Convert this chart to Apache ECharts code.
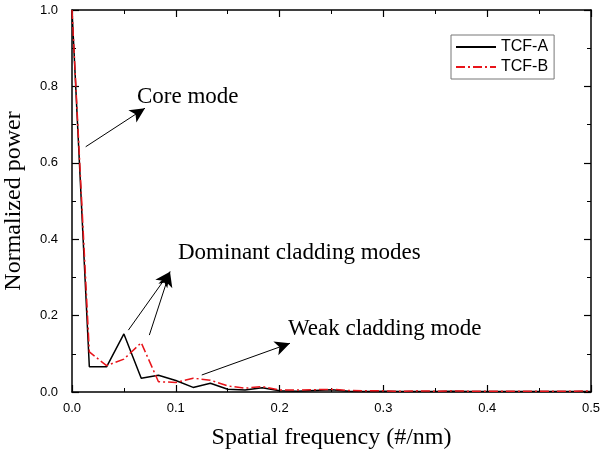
<!DOCTYPE html>
<html>
<head>
<meta charset="utf-8">
<script src="https://cdn.jsdelivr.net/npm/echarts@6/dist/echarts.min.js"></script>
<style>
  html, body { margin: 0; padding: 0; background: #fff; }
  #main { width: 602px; height: 454px; }
</style>
</head>
<body>
<div id="main"></div>
<script>
// spatial frequency samples (#/nm)
var freq = [0, 0.0167, 0.0333, 0.05, 0.0667, 0.0833, 0.1, 0.1167, 0.1333, 0.15,
  0.1667, 0.1833, 0.2, 0.2167, 0.2333, 0.25, 0.2667, 0.2833, 0.3, 0.3167,
  0.3333, 0.35, 0.3667, 0.3833, 0.4, 0.4167, 0.4333, 0.45, 0.4667, 0.4833, 0.5];
var tcfA = [1.0, 0.066, 0.066, 0.152, 0.036, 0.044, 0.030, 0.012, 0.023, 0.007,
  0.005, 0.011, 0.003, 0.002, 0.004, 0.006, 0.002, 0.001, 0.002, 0.001,
  0.001, 0.001, 0.002, 0.001, 0.001, 0.001, 0.001, 0.001, 0.001, 0.001, 0.001];
var tcfB = [1.0, 0.105, 0.069, 0.086, 0.129, 0.027, 0.025, 0.036, 0.031, 0.016,
  0.010, 0.014, 0.005, 0.005, 0.006, 0.007, 0.004, 0.003, 0.003, 0.002,
  0.003, 0.002, 0.003, 0.002, 0.002, 0.002, 0.002, 0.002, 0.002, 0.002, 0.003];
var seriesNames = ['TCF-A', 'TCF-B'];

function pairs(ys) {
  return freq.map(function (x, i) { return [x, ys[i]]; });
}

var chart = echarts.init(document.getElementById('main'));

var serif = 'Liberation Serif';
var sans = 'Liberation Sans';

function axisBase(pos, showLabel) {
  return {
    type: 'value',
    position: pos,
    min: 0,
    axisLine: { show: true, onZero: false, lineStyle: { color: '#000', width: 1.5 } },
    axisTick: { show: true, inside: true, length: 7, lineStyle: { color: '#000', width: 1.2 } },
    minorTick: { show: true, splitNumber: 2, length: 4, lineStyle: { color: '#000', width: 1 } },
    splitLine: { show: false },
    axisLabel: {
      show: showLabel, color: '#000', fontFamily: sans, fontSize: 13, margin: 10,
      formatter: function (v) { return v.toFixed(1); }
    }
  };
}

var xBottom = axisBase('bottom', true);
xBottom.max = 0.5; xBottom.interval = 0.1;
xBottom.name = 'Spatial frequency (#/nm)';
xBottom.nameLocation = 'middle';
xBottom.nameGap = 34;
xBottom.nameTextStyle = { fontFamily: serif, fontSize: 24, color: '#000' };
var xTop = axisBase('top', false);
xTop.max = 0.5; xTop.interval = 0.1;

var yLeft = axisBase('left', true);
yLeft.max = 1.0; yLeft.interval = 0.2;
yLeft.axisLabel.margin = 14;
yLeft.name = 'Normalized power';
yLeft.nameLocation = 'middle';
yLeft.nameGap = 46;
yLeft.nameTextStyle = { fontFamily: serif, fontSize: 24, color: '#000' };
var yRight = axisBase('right', false);
yRight.max = 1.0; yRight.interval = 0.2;

function arrow(from, to) {
  return [{ coord: from }, { coord: to }];
}

option = {
  animation: false,
  backgroundColor: '#fff',
  grid: { left: 72, right: 11, top: 10, bottom: 62, outerBoundsMode: 'none' },
  legend: {
    data: seriesNames,
    orient: 'vertical',
    left: 451,
    top: 35,
    padding: [4, 6, 4, 4],
    itemWidth: 40,
    itemHeight: 14,
    itemGap: 4,
    borderColor: '#777',
    borderWidth: 1,
    itemStyle: { opacity: 0 },
    textStyle: { fontFamily: sans, fontSize: 16, color: '#000' }
  },
  xAxis: [xBottom, xTop],
  yAxis: [yLeft, yRight],
  graphic: [
    { type: 'text', left: 137, top: 85, style: { text: 'Core mode', font: '23px "Liberation Serif"', fill: '#000' } },
    { type: 'text', left: 178, top: 241, style: { text: 'Dominant cladding modes', font: '23px "Liberation Serif"', fill: '#000' } },
    { type: 'text', left: 288, top: 317, style: { text: 'Weak cladding mode', font: '23px "Liberation Serif"', fill: '#000' } }
  ],
  series: [
    {
      name: seriesNames[0],
      type: 'line',
      data: pairs(tcfA),
      symbol: 'none',
      z: 3,
      lineStyle: { color: '#000', width: 1.5, type: 'solid' },
      itemStyle: { color: '#000' },
      markLine: {
        silent: true,
        symbol: ['none', 'arrow'],
        symbolSize: [11, 15],
        label: { show: false },
        lineStyle: { color: '#000', width: 1, type: 'solid' },
        data: [
          arrow([0.0132, 0.642], [0.0703, 0.743]),
          arrow([0.0543, 0.162], [0.0944, 0.315]),
          arrow([0.0745, 0.149], [0.0944, 0.315]),
          arrow([0.125, 0.0445], [0.21, 0.1275])
        ]
      }
    },
    {
      name: seriesNames[1],
      type: 'line',
      data: pairs(tcfB),
      symbol: 'none',
      z: 4,
      lineStyle: { color: '#e8141a', width: 1.5, type: [9, 3, 2, 3] },
      itemStyle: { color: '#e8141a' }
    }
  ]
};

chart.setOption(option);
</script>
</body>
</html>
